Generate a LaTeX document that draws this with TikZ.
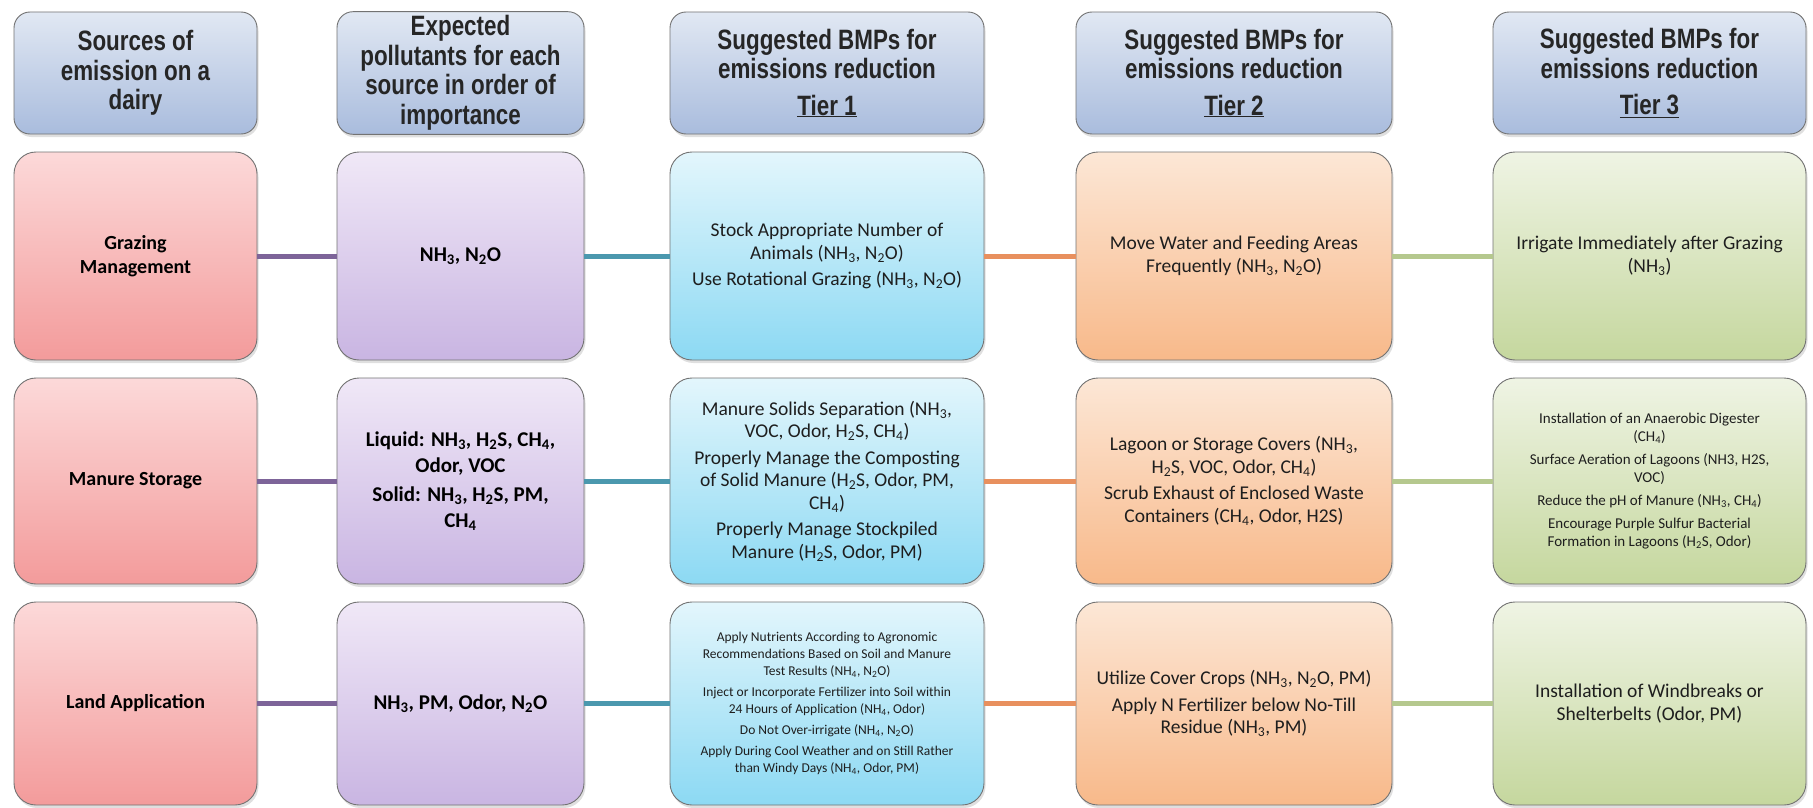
\documentclass[tikz,border=0pt]{standalone}
\usepackage{fontspec}
\setmainfont{Carlito}
\newfontfamily\hdrfont[FakeStretch=0.8]{Liberation Sans Bold}
\usetikzlibrary{shadows}
\definecolor{hdtop}{HTML}{E1E8F3}
\definecolor{hdbot}{HTML}{A9BCDD}
\definecolor{atop}{HTML}{FCD9D9}
\definecolor{abot}{HTML}{F39B9B}
\definecolor{btop}{HTML}{F0E8F7}
\definecolor{bbot}{HTML}{C9B5E2}
\definecolor{ctop}{HTML}{E3F6FC}
\definecolor{cbot}{HTML}{8CD9F3}
\definecolor{dtop}{HTML}{FCE7D6}
\definecolor{dbot}{HTML}{F8B98A}
\definecolor{etop}{HTML}{EFF4E4}
\definecolor{ebot}{HTML}{C5D79E}
\definecolor{lnab}{HTML}{7D6499}
\definecolor{lnbc}{HTML}{4B98AE}
\definecolor{lncd}{HTML}{E8905E}
\definecolor{lnde}{HTML}{B5C88E}
\definecolor{txt}{HTML}{1E1E1E}
\newcommand{\sbs}[1]{\textsubscript{#1}}
\tikzset{
  boxbase/.style={draw=black!55, line width=0.9pt, align=center, inner sep=4pt,
    drop shadow={opacity=0.25, shadow xshift=1.5pt, shadow yshift=-3pt}},
  hdr/.style={boxbase, rounded corners=16pt, minimum height=122pt, top color=hdtop, bottom color=hdbot,
    font=\hdrfont\fontsize{28}{29.5}\selectfont, text=black!85},
  bodyb/.style={boxbase, rounded corners=22pt, text=txt},
  cola/.style={bodyb, top color=atop, bottom color=abot, font=\bfseries\fontsize{20}{24}\selectfont, text=black},
  colb/.style={bodyb, top color=btop, bottom color=bbot, font=\bfseries\fontsize{21}{26}\selectfont, text=black},
  colc/.style={bodyb, top color=ctop, bottom color=cbot, font=\fontsize{19.5}{22.5}\selectfont},
  cold/.style={bodyb, top color=dtop, bottom color=dbot, font=\fontsize{19.5}{22.5}\selectfont},
  cole/.style={bodyb, top color=etop, bottom color=ebot, font=\fontsize{19.5}{22.5}\selectfont},
  wa/.style={minimum width=243pt},
  wb/.style={minimum width=247pt},
  wc/.style={minimum width=314pt},
  wd/.style={minimum width=316pt},
  we/.style={minimum width=313pt},
  ra/.style={minimum height=208pt},
  rb/.style={minimum height=206pt},
  rc/.style={minimum height=203pt},
  conn/.style={line width=5pt},
}
\begin{document}
\begin{tikzpicture}[x=1pt,y=-1pt]
\useasboundingbox[fill=white] (0,0) rectangle (1813,808);
% headers
\node[hdr,wa] (h1) at (135.5,73) {Sources of\\emission on a\\dairy};
\node[hdr,wb] (h2) at (460.5,73) {Expected\\pollutants for each\\source in order of\\importance};
\node[hdr,wc] (h3) at (827,73) {Suggested BMPs for\\emissions reduction\\[7pt]\underline{Tier 1}};
\node[hdr,wd] (h4) at (1234,73) {Suggested BMPs for\\emissions reduction\\[7pt]\underline{Tier 2}};
\node[hdr,we] (h5) at (1649.5,73) {Suggested BMPs for\\emissions reduction\\[7pt]\underline{Tier 3}};
% row 1
\node[cola,wa,ra] (a1) at (135.5,256) {Grazing\\Management};
\node[colb,wb,ra] (b1) at (460.5,256) {NH\sbs{3}, N\sbs{2}O};
\node[colc,wc,ra] (c1) at (827,256) {Stock Appropriate Number of\\Animals (NH\sbs{3}, N\sbs{2}O)\\[4pt]Use Rotational Grazing (NH\sbs{3}, N\sbs{2}O)};
\node[cold,wd,ra] (d1) at (1234,256) {Move Water and Feeding Areas\\Frequently (NH\sbs{3}, N\sbs{2}O)};
\node[cole,we,ra] (e1) at (1649.5,256) {Irrigate Immediately after Grazing\\(NH\sbs{3})};
% row 2
\node[cola,wa,rb] (a2) at (135.5,481) {Manure Storage};
\node[colb,wb,rb] (b2) at (460.5,481) {Liquid: NH\sbs{3}, H\sbs{2}S, CH\sbs{4},\\Odor, VOC\\[3pt]Solid: NH\sbs{3}, H\sbs{2}S, PM,\\CH\sbs{4}};
\node[colc,wc,rb] (c2) at (827,481) {Manure Solids Separation (NH\sbs{3},\\VOC, Odor, H\sbs{2}S, CH\sbs{4})\\[4pt]Properly Manage the Composting\\of Solid Manure (H\sbs{2}S, Odor, PM,\\CH\sbs{4})\\[4pt]Properly Manage Stockpiled\\Manure (H\sbs{2}S, Odor, PM)};
\node[cold,wd,rb] (d2) at (1234,481) {Lagoon or Storage Covers (NH\sbs{3},\\H\sbs{2}S, VOC, Odor, CH\sbs{4})\\[4pt]Scrub Exhaust of Enclosed Waste\\Containers (CH\sbs{4}, Odor, H2S)};
\node[cole,we,rb,font=\fontsize{15}{18}\selectfont] (e2) at (1649.5,481) {Installation of an Anaerobic Digester\\(CH\sbs{4})\\[5pt]Surface Aeration of Lagoons (NH3, H2S,\\VOC)\\[5pt]Reduce the pH of Manure (NH\sbs{3}, CH\sbs{4})\\[5pt]Encourage Purple Sulfur Bacterial\\Formation in Lagoons (H\sbs{2}S, Odor)};
% row 3
\node[cola,wa,rc] (a3) at (135.5,703.5) {Land Application};
\node[colb,wb,rc] (b3) at (460.5,703.5) {NH\sbs{3}, PM, Odor, N\sbs{2}O};
\node[colc,wc,rc,font=\fontsize{13.5}{17}\selectfont] (c3) at (827,703.5) {Apply Nutrients According to Agronomic\\Recommendations Based on Soil and Manure\\Test Results (NH\sbs{4}, N\sbs{2}O)\\[4pt]Inject or Incorporate Fertilizer into Soil within\\24 Hours of Application (NH\sbs{4}, Odor)\\[4pt]Do Not Over-irrigate (NH\sbs{4}, N\sbs{2}O)\\[4pt]Apply During Cool Weather and on Still Rather\\than Windy Days (NH\sbs{4}, Odor, PM)};
\node[cold,wd,rc] (d3) at (1234,703.5) {Utilize Cover Crops (NH\sbs{3}, N\sbs{2}O, PM)\\[4pt]Apply N Fertilizer below No-Till\\Residue (NH\sbs{3}, PM)};
\node[cole,we,rc] (e3) at (1649.5,703.5) {Installation of Windbreaks or\\Shelterbelts (Odor, PM)};
% connectors
\foreach \r in {1,2,3}{
  \draw[conn,lnab] (a\r.east) -- (b\r.west);
  \draw[conn,lnbc] (b\r.east) -- (c\r.west);
  \draw[conn,lncd] (c\r.east) -- (d\r.west);
  \draw[conn,lnde] (d\r.east) -- (e\r.west);
}
\end{tikzpicture}
\end{document}
